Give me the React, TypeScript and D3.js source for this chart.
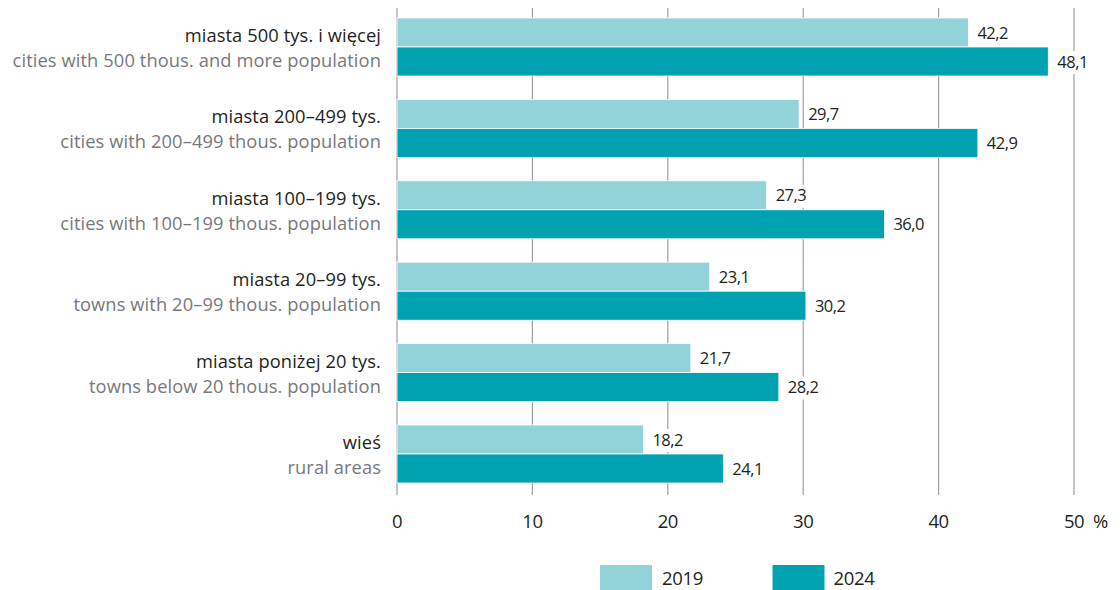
import React from "react";
import * as d3 from "d3";

const categoriesPl = [
  "miasta 500 tys. i więcej",
  "miasta 200–499 tys.",
  "miasta 100–199 tys.",
  "miasta 20–99 tys.",
  "miasta poniżej 20 tys.",
  "wieś",
];
const categoriesEn = [
  "cities with 500 thous. and more population",
  "cities with 200–499 thous. population",
  "cities with 100–199 thous. population",
  "towns with 20–99 thous. population",
  "towns below 20 thous. population",
  "rural areas",
];
const values2019 = [42.2, 29.7, 27.3, 23.1, 21.7, 18.2];
const values2024 = [48.1, 42.9, 36.0, 30.2, 28.2, 24.1];
const seriesNames = ["2019", "2024"];
const tickValues = [0, 10, 20, 30, 40, 50];

const colors = ["#92D2D9", "#00A1B0"];
const W = 1120;
const H = 590;
const FONT = "'Open Sans', sans-serif";

export default function App() {
  const x = d3.scaleLinear().domain([0, 50]).range([397, 1074]);
  const step = 81.4;
  const top0 = 18;
  const barH = 29;
  const y = d3
    .scaleBand<number>()
    .domain(d3.range(categoriesPl.length))
    .range([top0, top0 + step * categoriesPl.length])
    .paddingInner(0)
    .paddingOuter(0);
  const fmt = (v: number) => v.toFixed(1).replace(".", ",");
  const series = [values2019, values2024];

  return (
    <svg width={W} height={H} style={{ display: "block", position: "absolute", left: 0, top: 0 }}>
      <rect width={W} height={H} fill="#fff" />
      {tickValues.map((t) => (
        <line
          key={t}
          x1={x(t)}
          x2={x(t)}
          y1={8}
          y2={495}
          stroke="#9d9fa2"
          strokeWidth={1.2}
        />
      ))}
      {categoriesPl.map((c, i) =>
        series.map((s, k) => {
          const yy = (y(i) as number) + k * barH;
          return (
            <rect
              key={`${i}-${k}`}
              x={x(0)}
              y={yy}
              width={x(s[i]) - x(0)}
              height={barH}
              fill={colors[k]}
              stroke="#fff"
              strokeWidth={0.8}
            />
          );
        })
      )}
      {categoriesPl.map((c, i) =>
        series.map((s, k) => {
          const yy = (y(i) as number) + k * barH;
          const lx = x(s[i]) + 9;
          return (
            <g key={`l${i}-${k}`}>
              <rect x={lx - 3} y={yy + 4} width={40} height={barH - 6} fill="#fff" />
              <text
                x={lx}
                y={yy + barH / 2 + 6}
                fontFamily={FONT}
                fontSize={16.5}
                fill="#231f20"
                letterSpacing={-0.5}
              >
                {fmt(s[i])}
              </text>
            </g>
          );
        })
      )}
      {categoriesPl.map((c, i) => {
        const yy = y(i) as number;
        return (
          <g key={`c${i}`} fontFamily={FONT} fontSize={18.3} textAnchor="end">
            <text x={381} y={yy + 24} fill="#231f20" letterSpacing={0.1}>
              {c}
            </text>
            <text x={381} y={yy + 49} fill="#77787b" letterSpacing={0.1}>
              {categoriesEn[i]}
            </text>
          </g>
        );
      })}
      {tickValues.map((t) => (
        <text
          key={`t${t}`}
          x={x(t)}
          y={528}
          textAnchor="middle"
          fontFamily={FONT}
          fontSize={18.5}
          letterSpacing={-0.5}
          fill="#231f20"
        >
          {t}
        </text>
      ))}
      <text x={x(50) + 19} y={528} fontFamily={FONT} fontSize={18.5} fill="#231f20">
        %
      </text>
      {seriesNames.map((n, k) => (
        <g key={n}>
          <rect x={600 + k * 172.5} y={565} width={52} height={25} fill={colors[k]} />
          <text
            x={662 + k * 171.5}
            y={585}
            fontFamily={FONT}
            fontSize={18.5}
            letterSpacing={-0.3}
            fill="#231f20"
          >
            {n}
          </text>
        </g>
      ))}
    </svg>
  );
}
